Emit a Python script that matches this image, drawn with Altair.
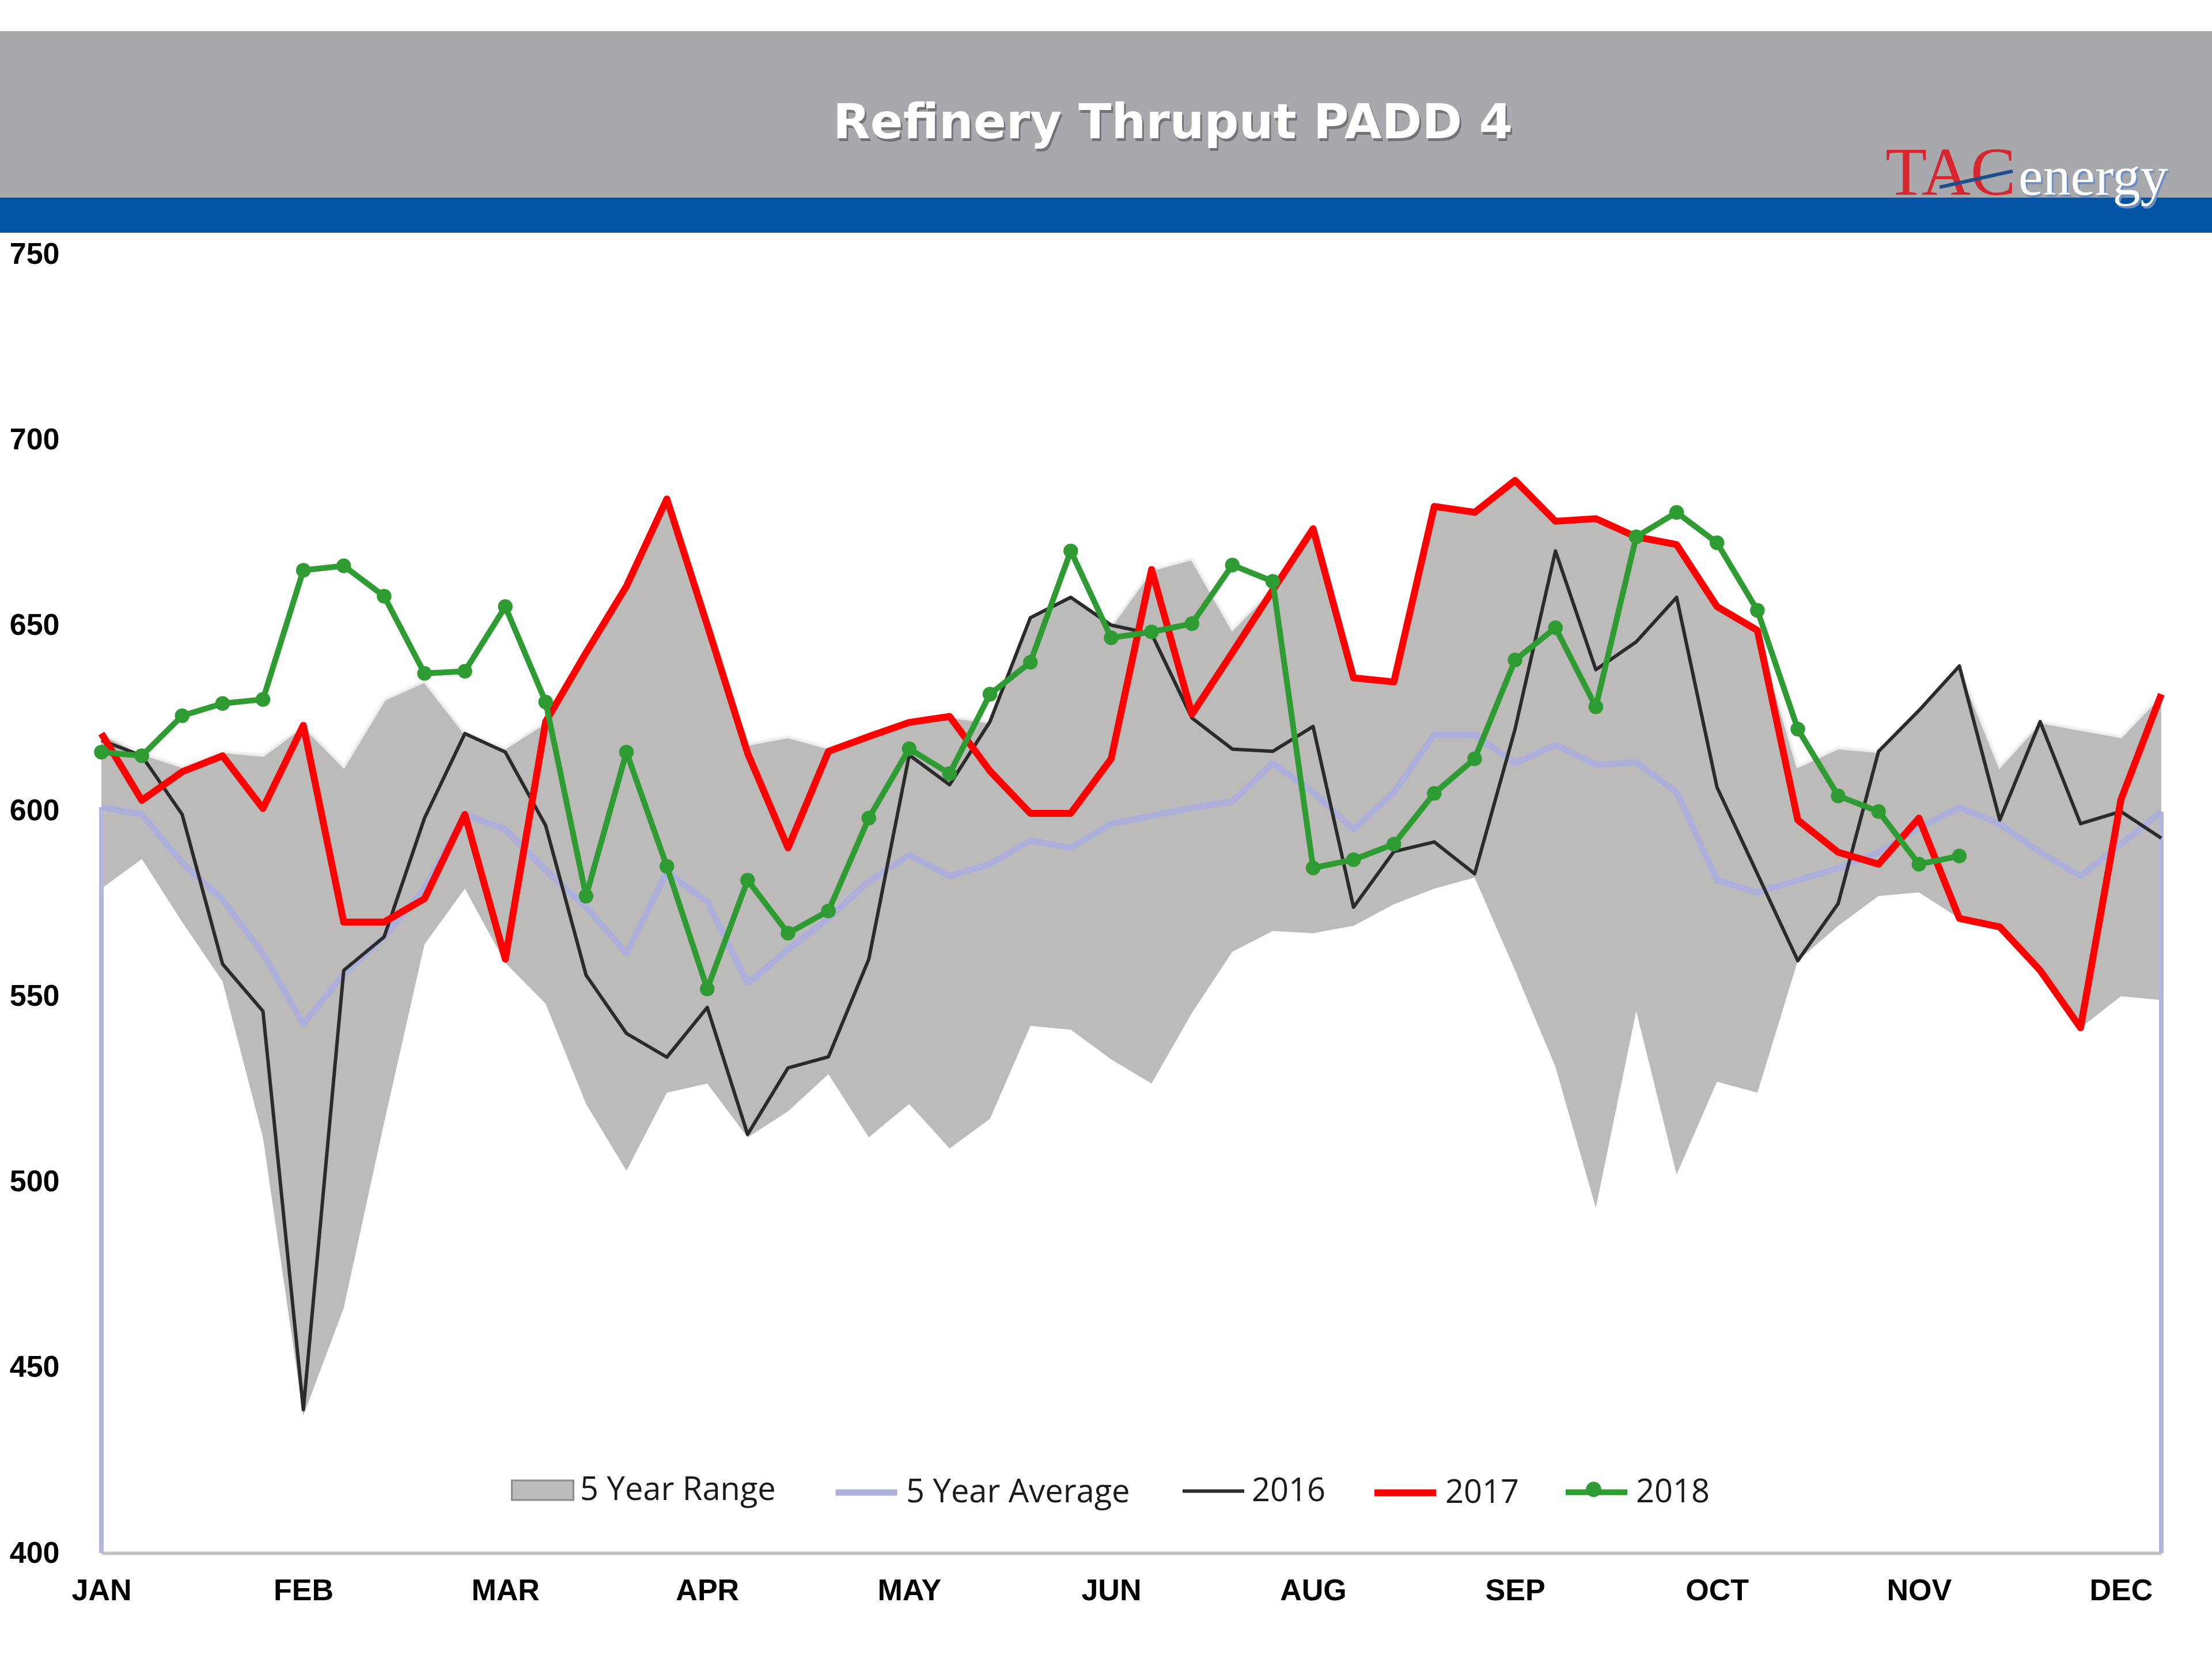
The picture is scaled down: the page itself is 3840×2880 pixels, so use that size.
import altair as alt
import pandas as pd

# ---------------- data ----------------
weeks = list(range(52))
month_labels = ["JAN", "FEB", "MAR", "APR", "MAY", "JUN", "AUG", "SEP", "OCT", "NOV", "DEC"]
month_ticks = [0, 5, 10, 15, 20, 25, 30, 35, 40, 45, 50]
y_ticks = [400, 450, 500, 550, 600, 650, 700, 750]

range_high = [621, 615.5, 612, 616, 615, 623, 612, 630, 635, 621, 617, 624, 642.6, 660.5,
              684, 650, 618, 620, 617, 620, 624, 625.4, 624, 652, 657.5, 650, 665, 668,
              649, 660, 676, 636, 635, 682, 680.4, 689, 678, 678.7, 674, 672, 656, 649,
              612, 617, 616, 627, 639, 612, 624, 622, 620, 631.4]
range_low = [579, 587, 570, 554, 512, 437, 466, 516, 564, 579, 559, 548, 521, 503,
             524, 526.5, 512, 519, 529, 512, 521, 509, 517, 542, 541, 533, 526.5, 545.5,
             562, 567.6, 567, 569, 574.8, 579, 582, 557, 531, 493, 546, 502, 527, 524,
             559.6, 569, 577, 578, 571, 568, 557, 541.5, 550, 549]
avg5 = [601, 599, 586, 576, 561.5, 542.5, 556, 566, 579, 599, 595, 584, 574, 561.6,
        583.5, 575.5, 553.5, 562.6, 571, 581, 588, 582.4, 585.6, 592, 590, 596.5, 598.6,
        600.8, 602.5, 612.8, 605, 595, 605, 620.5, 620.5, 612.8, 617.7, 612.4, 613, 605,
        581.3, 578, 581.3, 584.5, 588.8, 595.4, 600.9, 596.4, 588.8, 582.4, 591, 599.8]
y2016 = [619, 614.8, 599, 558.7, 546, 438.6, 557, 566, 598, 620.8, 615.8, 596, 555.7, 540,
         533.6, 547, 512.8, 530.7, 533.7, 560, 615, 607, 624, 652, 657.5, 650, 647.7, 625,
         616.6, 616, 622.7, 574, 589, 591.6, 583, 622, 670, 638, 645.5, 657.5, 606.3, 583,
         559.6, 575, 616, 627, 639, 597.5, 624, 596.5, 599.8, 592.6]
y2017 = [620.8, 602.8, 610.5, 614.8, 600.6, 623, 570, 570, 576.3, 599, 560, 624, 642.6,
         660.5, 684, 650, 615.5, 590, 616, 620, 623.8, 625.4, 610.7, 599.3, 599.3, 614, 665,
         626, 642.6, 659.4, 676, 635.8, 634.7, 682, 680.4, 689, 678, 678.7, 673.8, 671.7,
         655, 648.6, 597.5, 588.8, 585.6, 598, 571, 568.7, 557, 541.5, 603, 631.4]
y2018 = [615.8, 614.8, 625.6, 628.9, 630, 664.8, 666, 657.8, 637, 637.6, 655, 629.3, 577,
         615.8, 585, 552, 581.3, 567, 573, 598, 616.7, 610, 631.4, 640, 670, 646.6, 648.2,
         650.4, 666.2, 661.8, 584.6, 586.8, 591, 604.7, 614, 640.6, 649.3, 628, 673.8, 680.4,
         672.2, 654, 622, 604, 599.8, 585.6, 587.8]

series_names = ["5 Year Range", "5 Year Average", "2016", "2017", "2018"]
series_colors = ["#BDBBBA", "#ADB0DA", "#2B2B2B", "#FF0000", "#2F9B33"]
series_widths = [3, 11, 6, 12, 10]

title_text = "Refinery Thruput PADD 4"

# ---------------- layout (full-size pixels) ----------------
W, H = 3840, 2880
PAD_L, PAD_T = 176, 441
PLOT_W, PLOT_H = 3576, 2255
PAD_R = W - PAD_L - PLOT_W
PAD_B = H - PAD_T - PLOT_H

legend_x = [711, 1269, 1874, 2204, 2537]
legend_y = 2091
SYM = 107 * 107

band_df = pd.DataFrame({"week": weeks, "high": range_high, "low": range_low,
                        "series": series_names[0]})


def line_df(vals, name):
    return pd.DataFrame({"week": weeks[:len(vals)], "value": vals, "series": name})


avg_df = line_df(avg5, series_names[1])
d16 = line_df(y2016, series_names[2])
d17 = line_df(y2017, series_names[3])
d18 = line_df(y2018, series_names[4])
edge_df = pd.DataFrame({"week": [weeks[0], weeks[-1]], "value": [avg5[0], avg5[-1]],
                        "base": [y_ticks[0], y_ticks[0]]})
one = pd.DataFrame({"k": [0]})

label_expr = "[" + ",".join("'%s'" % m for m in month_labels) + "][round(datum.value/5)]"

xscale = alt.Scale(domain=[0, 51], nice=False, zero=False)
yscale = alt.Scale(domain=[y_ticks[0], y_ticks[-1]], nice=False, zero=False)
xaxis = alt.Axis(values=month_ticks, labelExpr=label_expr, title=None, grid=False,
                 ticks=False, tickSize=0, domain=True, domainColor="#C3C3C3",
                 domainWidth=6, labelFont="Liberation Sans", labelFontWeight="bold",
                 labelFontSize=52, labelColor="#000000", labelPadding=40,
                 labelFlush=False, labelOverlap=False)
yaxis = alt.Axis(values=y_ticks, title=None, grid=False, ticks=False, tickSize=0,
                 domain=False, labelFont="Liberation Sans", labelFontWeight="bold",
                 labelFontSize=52, labelColor="#000000", labelPadding=73,
                 labelFlush=False, labelOverlap=False)

X = alt.X("week:Q", scale=xscale, axis=xaxis)


def legend_for(i, symbol, stroke_w, **kw):
    return alt.Legend(
        title=None, orient="none", legendX=legend_x[i], legendY=legend_y,
        direction="horizontal", symbolSize=SYM, symbolType=symbol,
        symbolStrokeWidth=stroke_w, labelFont="Open Sans", labelFontSize=56,
        labelColor="#1A1A1A", labelOffset=10, labelLimit=0, **kw)


def color_for(i, legend):
    return alt.Color("series:N",
                     scale=alt.Scale(domain=[series_names[i]], range=[series_colors[i]]),
                     legend=legend)


LINE = "M-1,0H1"
RECT = "M-1,-0.32H1V0.32H-1Z"
DOT = "M-0.25,0A0.25,0.25,0,1,0,0.25,0A0.25,0.25,0,1,0,-0.25,0Z"

# ---------------- header ----------------
banner = alt.Chart(one).mark_rect(color="#A8A9AD").encode(
    x=alt.value(-PAD_L), x2=alt.value(W - PAD_L), y=alt.value(54 - PAD_T), y2=alt.value(343 - PAD_T))
blue = alt.Chart(one).mark_rect(color="#0454A5").encode(
    x=alt.value(-PAD_L), x2=alt.value(W - PAD_L), y=alt.value(343 - PAD_T), y2=alt.value(404 - PAD_T))
title_shadow = alt.Chart(one).mark_text(
    text=title_text, font="DejaVu Sans", fontWeight="bold", fontSize=84, color="#4A4A4A",
    opacity=0.55, align="center", baseline="alphabetic").encode(
    x=alt.value(2036 - PAD_L + 3), y=alt.value(240 - PAD_T + 5))
title = alt.Chart(one).mark_text(
    text=title_text, font="DejaVu Sans", fontWeight="bold", fontSize=84, color="#FFFFFF",
    align="center", baseline="alphabetic").encode(
    x=alt.value(2036 - PAD_L), y=alt.value(240 - PAD_T))
tac = alt.Chart(one).mark_text(
    text="TAC", font="Liberation Serif", fontSize=118, color="#D9262E", align="left",
    baseline="alphabetic").encode(x=alt.value(3273 - PAD_L), y=alt.value(338 - PAD_T))
slash = alt.Chart(one).mark_rule(color="#1F4E8C", strokeWidth=6).encode(
    x=alt.value(3367 - PAD_L), x2=alt.value(3494 - PAD_L), y=alt.value(325 - PAD_T),
    y2=alt.value(297 - PAD_T))
energy_shadow = alt.Chart(one).mark_text(
    text="energy", font="Liberation Serif", fontSize=96, color="#6F8FBF", align="left",
    baseline="alphabetic").encode(x=alt.value(3504 - PAD_L + 3), y=alt.value(338 - PAD_T + 4))
energy = alt.Chart(one).mark_text(
    text="energy", font="Liberation Serif", fontSize=96, color="#FFFFFF", align="left",
    baseline="alphabetic").encode(x=alt.value(3504 - PAD_L), y=alt.value(338 - PAD_T))

# ---------------- plot ----------------
band = alt.Chart(band_df).mark_area(opacity=1).encode(
    x=X, y=alt.Y("high:Q", scale=yscale, axis=yaxis), y2="low:Q",
    color=color_for(0, legend_for(0, RECT, 3, symbolStrokeColor="#8C8C8C",
                                  symbolFillColor="#C4C2C2")))
band_edge = alt.Chart(band_df).mark_line(color="#F3F3F3", strokeWidth=6, opacity=0.85).encode(
    x=X, y=alt.Y("high:Q", scale=yscale, axis=yaxis))
edges = alt.Chart(edge_df).mark_rule(color="#B4B6DC", strokeWidth=8).encode(
    x=X, y=alt.Y("value:Q", scale=yscale, axis=yaxis), y2="base:Q")


def series_line(df, i):
    return alt.Chart(df).mark_line(strokeWidth=series_widths[i], strokeJoin="round").encode(
        x=X, y=alt.Y("value:Q", scale=yscale, axis=yaxis),
        color=color_for(i, legend_for(i, LINE, series_widths[i])))


l_avg = series_line(avg_df, 1)
l16 = series_line(d16, 2)
l17 = series_line(d17, 3)
l18 = series_line(d18, 4)
# marker-only legend drawn over the 2018 line swatch (its label is left blank)
p18 = alt.Chart(d18).mark_point(filled=True, size=650, opacity=1).encode(
    x=X, y=alt.Y("value:Q", scale=yscale, axis=yaxis),
    color=color_for(4, legend_for(4, DOT, 0, labelExpr="''")))

chart = alt.layer(
    banner, blue, title_shadow, title, tac, slash, energy_shadow, energy,
    band, band_edge, edges, l_avg, l16, l17, l18, p18
).resolve_scale(color="independent").properties(
    width=PLOT_W, height=PLOT_H,
    padding={"left": PAD_L, "top": PAD_T, "right": PAD_R, "bottom": PAD_B},
    autosize=alt.AutoSizeParams(type="none"),
    background="#FFFFFF",
).configure_view(strokeWidth=0)

chart.save("out.html", embed_options={"renderer": "svg", "actions": False})
